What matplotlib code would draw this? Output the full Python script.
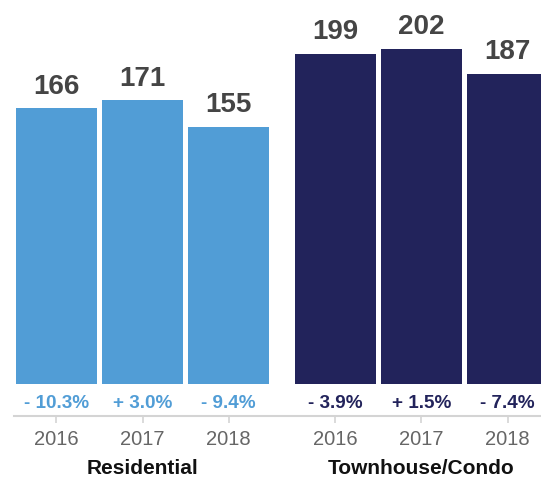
import matplotlib
matplotlib.use("Agg")
import matplotlib.pyplot as plt
import matplotlib.transforms as mtransforms

plt.rcParams['font.family'] = ['Liberation Sans', 'DejaVu Sans']

groups = ["Residential", "Townhouse/Condo"]
years = ["2016", "2017", "2018"]
residential = [166, 171, 155]
townhouse = [199, 202, 187]
residential_change = [-10.3, 3.0, -9.4]
townhouse_change = [-3.9, 1.5, -7.4]

blue = "#519dd6"
navy = "#22235b"

W, H = 541, 480
fig = plt.figure(figsize=(W / 100, H / 100), dpi=100)

px_per_unit = 1.66
axis_y = 415.5     # pixel row of the baseline axis line (from top)
bar_base = 384     # pixel row where bars start
ax_bottom = (H - axis_y) / H
ax = fig.add_axes([0, ax_bottom, 1, 1 - ax_bottom])
ymin = -(axis_y - bar_base) / px_per_unit
ymax = ymin + axis_y / px_per_unit
ax.set_ylim(ymin, ymax)

slot = 86.3
gap = 20 / slot
pos_res = [0, 1, 2]
pos_town = [3 + gap, 4 + gap, 5 + gap]
ax.set_xlim(-56.2 / slot, -56.2 / slot + W / slot)

width = 81 / slot


def fmt(v):
    return f"{'+' if v > 0 else '-'} {abs(v):.1f}%"


for pos, vals, chg, col in [(pos_res, residential, residential_change, blue),
                            (pos_town, townhouse, townhouse_change, navy)]:
    ax.bar(pos, vals, width=width, color=col, bottom=0)
    for x, v, c in zip(pos, vals, chg):
        ax.annotate(str(v), (x, v), xytext=(0, 10.5), textcoords="offset points",
                    ha="center", va="baseline", fontsize=20, fontweight="bold",
                    color="#454545")
        ax.annotate(fmt(c), (x, 0), xytext=(0, -13.7), textcoords="offset points",
                    ha="center", va="center", fontsize=13.6, fontweight="bold",
                    color=col)

for s in ["left", "right", "top"]:
    ax.spines[s].set_visible(False)
ax.spines["bottom"].set_color("#d4d4d4")
ax.spines["bottom"].set_linewidth(1.5)
ax.spines["bottom"].set_bounds(-42 / slot, ax.get_xlim()[1])
ax.set_yticks([])
ax.set_xticks(pos_res + pos_town)
ax.set_xticklabels(years + years)
ax.tick_params(axis="x", length=5, width=1.2, color="#d4d4d4", pad=5.5,
               labelsize=14.5, labelcolor="#666666")

trans = mtransforms.blended_transform_factory(ax.transData, fig.transFigure)
label_y = (H - 468) / H
ax.text(pos_res[1], label_y, groups[0], transform=trans, ha="center", va="center",
        fontsize=15, fontweight="bold", color="#111111")
ax.text(pos_town[1], label_y, groups[1], transform=trans, ha="center", va="center",
        fontsize=15, fontweight="bold", color="#111111")

fig.savefig("out.png", dpi=100)
